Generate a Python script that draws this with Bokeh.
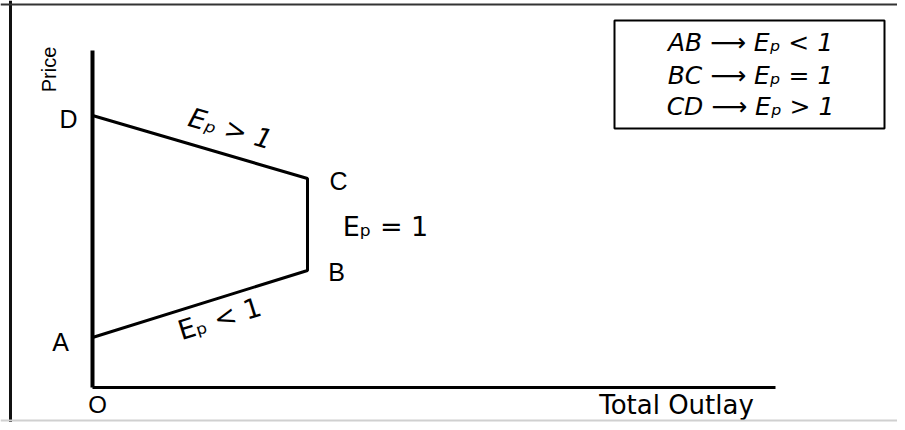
import math
from bokeh.plotting import figure
from bokeh.models import Span, BoxAnnotation
from bokeh.core.properties import value
from bokeh.embed import file_html
from bokeh.resources import INLINE

# ---- data (diagram coordinates: x = total outlay, y = price) ----
point_labels = ["A", "B", "C", "D"]
outlay = [0, 215, 215, 0]
price = [50, 117, 209, 272]

axis_x_max = 683
axis_y_max = 337

segment_labels = ["E\u209a < 1", "E\u209a = 1", "E\u209a > 1"]
legend_lines = ["AB \u27f6 E\u209a < 1", "BC \u27f6 E\u209a = 1", "CD \u27f6 E\u209a > 1"]
x_title = "Total Outlay"
y_title = "Price"
origin_label = "O"

W, H = 897, 422
p = figure(width=W, height=H, x_range=(-92, 805), y_range=(-35, 387),
           output_backend="svg", toolbar_location=None, min_border=0)
p.axis.visible = False
p.grid.visible = False
p.outline_line_color = None
p.background_fill_color = "white"
p.border_fill_color = "white"

# outer frame (left, top, faint bottom)
p.add_layout(Span(location=-82, dimension="height", line_color="#111111", line_width=3))
p.add_layout(Span(location=383, dimension="width", line_color="#333333", line_width=2))
p.add_layout(Span(location=-33, dimension="width", line_color="#d0d0d0", line_width=2))

# axes as lines
p.line([0, 0], [0, axis_y_max], line_color="black", line_width=4)
p.line([0, axis_x_max], [0, 0], line_color="black", line_width=3)

# total outlay curve A-B-C-D
p.line(outlay, price, line_color="black", line_width=3)

font = value("Liberation Sans")
dfont = value("DejaVu Sans")

# point labels
lab_x = [outlay[0] - 32, outlay[1] + 29, outlay[2] + 31, outlay[3] - 24]
lab_y = [price[0] - 4, price[1] - 1, price[2] - 2, price[3] - 3]
p.text(x=lab_x, y=lab_y, text=point_labels, text_font=font, text_font_size="25px",
       text_align="center", text_baseline="middle", text_color="black")
p.text(x=[5], y=[-17], text=[origin_label], text_font=font, text_font_size="24px",
       text_align="center", text_baseline="middle", text_color="black")

# segment elasticity labels
ang_ab = math.atan2(price[1] - price[0], outlay[1] - outlay[0])
ang_cd = math.atan2(price[3] - price[2], outlay[3] - outlay[2]) + math.pi
p.text(x=[127], y=[69], text=[segment_labels[0]], angle=[ang_ab], text_font=dfont,
       text_font_size="27px", text_align="center", text_baseline="middle", text_color="black")
p.text(x=[293], y=[161], text=[segment_labels[1]], text_font=dfont,
       text_font_size="27px", text_align="center", text_baseline="middle", text_color="black")
p.text(x=[138], y=[259], text=[segment_labels[2]], angle=[ang_cd], text_font=dfont,
       text_font_size="27px", text_align="center", text_baseline="middle", text_color="black",
       text_font_style="italic")

# axis titles
p.text(x=[-44], y=[318], text=[y_title], angle=[math.pi / 2], text_font=font,
       text_font_size="20px", text_align="center", text_baseline="middle", text_color="black")
p.text(x=[584], y=[-17], text=[x_title], text_font=dfont, text_font_size="26px",
       text_align="center", text_baseline="middle", text_color="black")

# legend box
p.add_layout(BoxAnnotation(left=522, right=792, bottom=259, top=367, fill_alpha=0,
                           line_color="black", line_alpha=1, line_width=2))
p.text(x=[658, 658, 658], y=[345, 312, 281], text=legend_lines, text_font=dfont,
       text_font_size="25px", text_align="center", text_baseline="middle", text_color="black",
       text_font_style="italic")

open("out.html", "w").write(file_html(p, INLINE))
